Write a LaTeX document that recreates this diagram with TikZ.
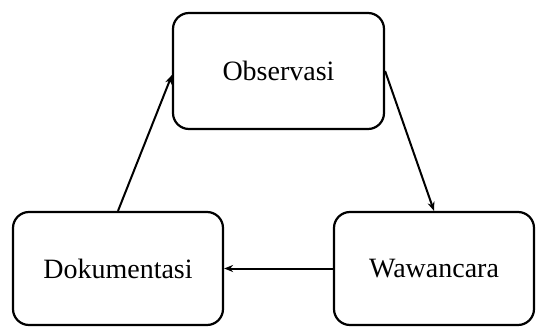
\documentclass[tikz,border=0pt]{standalone}
\usepackage{fontspec}
\setmainfont{Liberation Serif}
\usepackage{tikz}
\usetikzlibrary{arrows.meta,positioning,calc}
\tikzstyle{every path}=[line width=1pt]
\tikzstyle{methodbox}=[draw=black,rounded corners=8pt,line width=1.1pt,inner sep=0pt,font=\fontsize{14}{17}\selectfont]
\tikzstyle{flowedge} = [-{Stealth[length=4.5pt,width=3.5pt]},black]

\begin{document}
\begin{tikzpicture}[x=0.5pt,y=-0.5pt]
\def\boxh{115}
\useasboundingbox (0,0) rectangle (536,327);

	% Boxes
    \node[methodbox, minimum width=105.5pt, minimum height=58pt] (Obs) at (278.5,71) {Observasi};
    \node[methodbox, minimum width=105pt, minimum height=56.5pt] (Dok) at (118,268.5) {Dokumentasi};
    \node[methodbox, minimum width=100pt, minimum height=56.5pt] (Wwc) at (434,268.5) {Wawancara};

	% Cycle
    \draw[flowedge] (Obs.east) -- (Wwc.north);
    \draw[flowedge] (Wwc.west) -- (Dok.east);
    \draw[flowedge] (Dok.north) -- ($(Obs.west)+(0,4)$);

\end{tikzpicture}
\end{document}
